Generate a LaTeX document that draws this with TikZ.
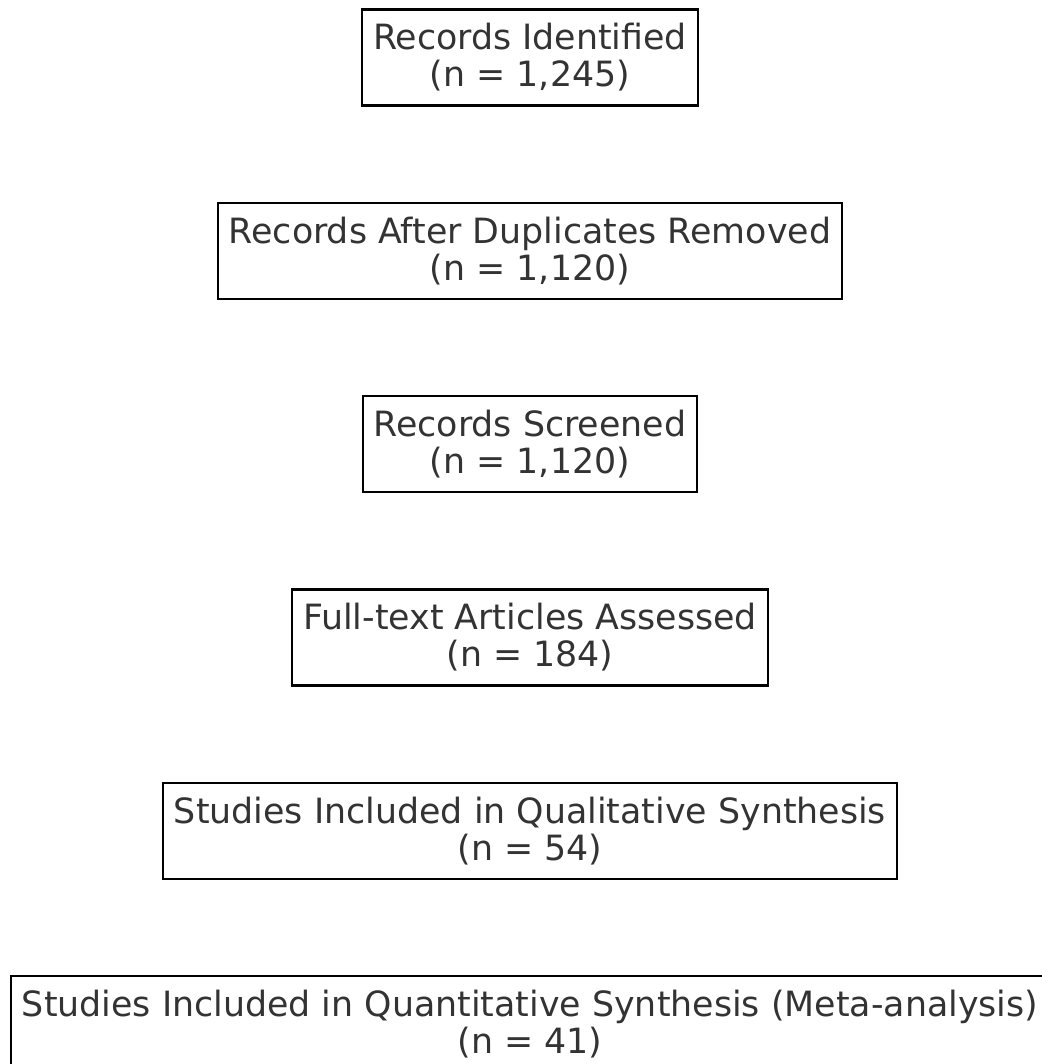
\documentclass[tikz,border=0pt]{standalone}
\usepackage{fontspec}
\setmainfont{DejaVu Sans}
\usetikzlibrary{positioning}
\definecolor{txtgray}{HTML}{333333}
\tikzset{stage/.style={draw=black,line width=2.2pt,align=center,text=txtgray,
  font=\fontsize{34.8}{37}\selectfont,inner xsep=11pt,minimum height=96pt}}

\begin{document}
\begin{tikzpicture}[node distance=193.3pt]
  \useasboundingbox (0pt,0pt) rectangle (1041pt,-1064pt);
  \node[stage] (ident) at (530pt,-57.5pt) {Records Identified\\(n = 1,245)};
  \node[stage] (dedup) [below of=ident]  {Records After Duplicates Removed\\(n = 1,120)};
  \node[stage] (screen) [below of=dedup] {Records Screened\\(n = 1,120)};
  \node[stage] (full) [below of=screen]  {Full-text Articles Assessed\\(n = 184)};
  \node[stage] (qual) [below of=full]    {Studies Included in Qualitative Synthesis\\(n = 54)};
  \node[stage] (quant) [below of=qual]   {Studies Included in Quantitative Synthesis (Meta-analysis)\\(n = 41)};
\end{tikzpicture}
\end{document}
